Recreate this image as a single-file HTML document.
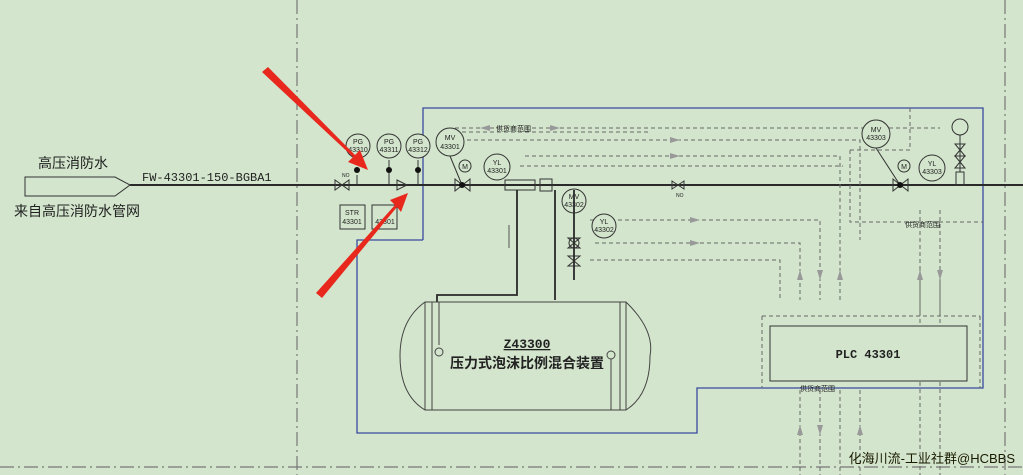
<!DOCTYPE html>
<html><head><meta charset="utf-8"><style>
html,body{margin:0;padding:0;background:#d3e5cc;}
svg{display:block;}
text{font-family:"Liberation Sans","Noto Sans CJK SC",sans-serif;fill:#222;}
.m{font-family:"Liberation Mono","Noto Sans CJK SC",monospace;}
</style></head><body>
<svg width="1023" height="475" viewBox="0 0 1023 475" xmlns="http://www.w3.org/2000/svg">
<rect width="1023" height="475" fill="#d3e5cc"/>
<g stroke="#777" stroke-width="1.2" fill="none" stroke-dasharray="14,4,2,4">
<line x1="297" y1="0" x2="297" y2="475"/>
<line x1="1005" y1="0" x2="1005" y2="475"/>
<line x1="0" y1="467" x2="1023" y2="467"/>
</g>
<polyline points="423,240 423,108 983,108 983,388 697,388 697,433 357,433 357,240 423,240" fill="none" stroke="#3a4aa0" stroke-width="1.3"/>
<polygon points="25,177 115,177 130,185 115,196 25,196" fill="none" stroke="#333" stroke-width="1"/>
<text x="38" y="168" font-size="14">高压消防水</text>
<text x="14" y="216" font-size="14">来自高压消防水管网</text>
<text x="142" y="181" font-size="12" class="m">FW-43301-150-BGBA1</text>
<line x1="130" y1="185" x2="1023" y2="185" stroke="#2a2a2a" stroke-width="2"/>
<g stroke="#666" stroke-width="1" fill="none" stroke-dasharray="4,3">
<polyline points="455,128 940,128"/>
<polyline points="455,132 650,132"/>
<polyline points="460,140 860,140 860,240"/>
<polyline points="525,156 840,156 840,300"/>
<polyline points="520,166 843,166"/>
<polyline points="590,220 820,220 820,300"/>
<polyline points="595,243 800,243 800,300"/>
<polyline points="590,260 780,260 780,300"/>
<line x1="762" y1="316" x2="980" y2="316"/><line x1="762" y1="316" x2="762" y2="388"/><line x1="980" y1="316" x2="980" y2="388"/>
<line x1="800" y1="390" x2="800" y2="475"/><line x1="820" y1="390" x2="820" y2="475"/><line x1="840" y1="390" x2="840" y2="475"/><line x1="860" y1="390" x2="860" y2="475"/>
<line x1="920" y1="270" x2="920" y2="475"/><line x1="940" y1="270" x2="940" y2="475"/>
<line x1="920" y1="210" x2="920" y2="316"/><line x1="940" y1="210" x2="940" y2="316"/>
<polyline points="850,150 910,150 910,107"/>
<polyline points="850,150 850,222 983,222"/>
</g>
<text x="496" y="131" font-size="7">供货商范围</text>
<text x="905" y="227" font-size="7">供货商范围</text>
<text x="800" y="391" font-size="7">供货商范围</text>
<g fill="#999">
<polygon points="480,128 490,125 490,131"/><polygon points="560,128 550,125 550,131"/>
<polygon points="680,140 670,137 670,143"/><polygon points="680,156 670,153 670,159"/>
<polygon points="700,220 690,217 690,223"/><polygon points="700,243 690,240 690,246"/>
<polygon points="800,270 797,280 803,280"/><polygon points="820,280 817,270 823,270"/><polygon points="840,270 837,280 843,280"/>
<polygon points="800,425 797,435 803,435"/><polygon points="820,435 817,425 823,425"/><polygon points="860,425 857,435 863,435"/>
<polygon points="920,270 917,280 923,280"/><polygon points="940,280 937,270 943,270"/>
</g>
<g stroke="#333" stroke-width="1" fill="#d3e5cc">
<circle cx="358" cy="146" r="12"/><circle cx="389" cy="146" r="12"/><circle cx="418" cy="146" r="12"/>
<circle cx="450" cy="142" r="14"/><circle cx="465" cy="166" r="6"/><circle cx="497" cy="167" r="13"/>
<circle cx="574" cy="201" r="12"/><circle cx="604" cy="226" r="12"/><circle cx="574" cy="243" r="5"/>
<circle cx="876" cy="134" r="14"/><circle cx="904" cy="166" r="6"/><circle cx="932" cy="168" r="13"/>
<circle cx="960" cy="127" r="8"/>
<rect x="340" y="205" width="25" height="24"/><rect x="372" y="205" width="25" height="24"/>
<rect x="770" y="326" width="197" height="55"/>
</g>
<g font-size="7" text-anchor="middle" class="m">
<text x="358" y="144">PG</text><text x="358" y="152">43310</text>
<text x="389" y="144">PG</text><text x="389" y="152">43311</text>
<text x="418" y="144">PG</text><text x="418" y="152">43312</text>
<text x="450" y="140">MV</text><text x="450" y="149">43301</text>
<text x="465" y="169">M</text>
<text x="497" y="165">YL</text><text x="497" y="173">43301</text>
<text x="574" y="199">MV</text><text x="574" y="207">43302</text>
<text x="604" y="224">YL</text><text x="604" y="232">43302</text>
<text x="876" y="132">MV</text><text x="876" y="140">43303</text>
<text x="904" y="169">M</text>
<text x="932" y="166">YL</text><text x="932" y="174">43303</text>
<text x="352" y="215">STR</text><text x="352" y="224">43301</text>
<text x="385" y="224">43301</text>
</g>
<g stroke="#333" fill="none" stroke-width="1">
<polygon points="335,180 335,190 349,180 349,190"/><text x="342" y="177" font-size="5" stroke="none">NO</text>
<polygon points="672,181 672,189 684,181 684,189"/><text x="676" y="197" font-size="5" stroke="none">NO</text>
<polygon points="455,179 455,191 470,179 470,191"/>
<polygon points="893,179 893,191 908,179 908,191"/>
<polygon points="397,180 407,185 397,190"/>
<line x1="357" y1="185" x2="357" y2="175"/><line x1="389" y1="185" x2="389" y2="160"/><line x1="418" y1="185" x2="418" y2="160"/>
<line x1="450" y1="156" x2="462" y2="185"/><line x1="876" y1="148" x2="900" y2="185"/>
<polygon points="568,238 580,238 568,248 580,248"/><polygon points="568,256 580,256 568,266 580,266"/>
<polygon points="955,144 965,144 955,156 965,156"/><polygon points="955,156 965,156 955,168 965,168"/>
<rect x="956" y="172" width="8" height="13"/><line x1="960" y1="135" x2="960" y2="172"/>
<rect x="505" y="180" width="30" height="10"/><rect x="540" y="179" width="12" height="12"/>
</g>
<g fill="#111"><circle cx="357" cy="170" r="3"/><circle cx="389" cy="170" r="3"/><circle cx="418" cy="170" r="3"/><circle cx="462" cy="185" r="3"/><circle cx="900" cy="185" r="3"/></g>
<g stroke="#2a2a2a" stroke-width="1.8" fill="none">
<polyline points="517,190 517,295 437,295 437,302"/>
<line x1="555" y1="190" x2="555" y2="300"/>
<line x1="574" y1="190" x2="574" y2="280"/>
</g>
<line x1="509" y1="225" x2="509" y2="248" stroke="#555"/>
<g stroke="#444" stroke-width="1" fill="none">
<path d="M425,302 L626,302 Q655,330 650,356 Q650,395 626,410 L425,410 Q400,395 400,356 Q400,320 425,302 Z"/>
<line x1="425" y1="302" x2="425" y2="410"/><line x1="432" y1="302" x2="432" y2="410"/>
<line x1="620" y1="302" x2="620" y2="410"/><line x1="626" y1="302" x2="626" y2="410"/>
<line x1="439" y1="302" x2="439" y2="345"/><circle cx="439" cy="352" r="4"/>
<circle cx="611" cy="355" r="4"/><line x1="611" y1="359" x2="611" y2="410"/>
</g>
<text x="527" y="348" font-size="13" font-weight="bold" text-anchor="middle" class="m" text-decoration="underline">Z43300</text>
<text x="527" y="368" font-size="14" font-weight="bold" text-anchor="middle">压力式泡沫比例混合装置</text>
<text x="868" y="358" font-size="12" font-weight="bold" text-anchor="middle" class="m">PLC 43301</text>
<g fill="#e8271d">
<polygon points="262,72 268,67 355,155 360,150 368,170 348,162 353,157"/>
<polygon points="322,298 316,293 395,205 390,200 408,193 401,212 397,207"/>
</g>
<text x="1015" y="463" font-size="13" text-anchor="end" style="fill:#1a1a00">化海川流-工业社群@HCBBS</text>
</svg>
</body></html>
